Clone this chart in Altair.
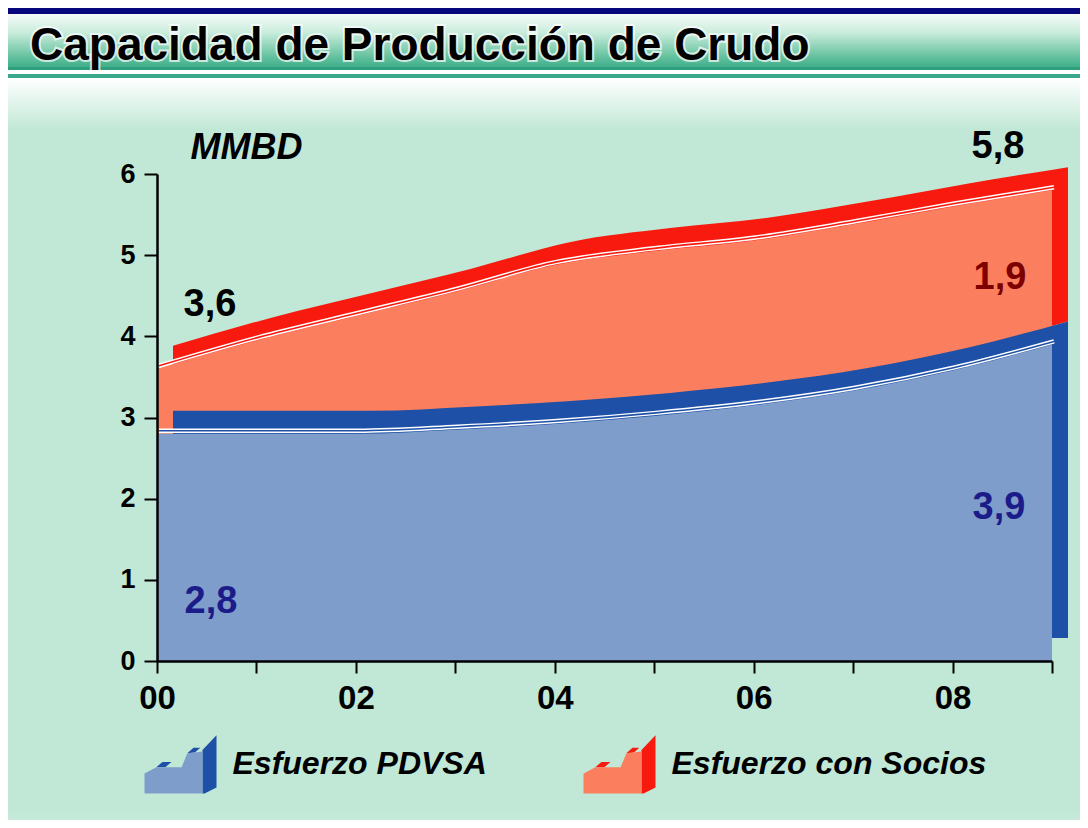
import altair as alt
import pandas as pd

# ---------------- data ----------------
years = [2000, 2001, 2002, 2003, 2004, 2005, 2006, 2007, 2008, 2009]
pdvsa = [2.8, 2.8, 2.8, 2.85, 2.92, 3.02, 3.15, 3.33, 3.58, 3.9]
socios = [0.8, 1.15, 1.45, 1.7, 1.96, 2.03, 2.03, 2.05, 2.02, 1.9]
series = ["Esfuerzo PDVSA", "Esfuerzo con Socios"]
y_ticks = [0, 1, 2, 3, 4, 5, 6]
title_text = "Capacidad de Producción de Crudo"
unit_text = "MMBD"

df = pd.DataFrame({"year": years, "pdvsa": pdvsa, "socios": socios})

# ---------------- style ----------------
NAVY = "#07077d"
PANEL = "#c1e8d6"
BLUE_FRONT = "#7f9dca"
BLUE_TOP = "#1d50a6"
RED_FRONT = "#fb7f5e"
RED_TOP = "#f81a0e"
SANS = "'Liberation Sans', Arial, Helvetica, sans-serif"

W, H = 895, 487
DX, DY = 16, -23  # depth of the 3D top faces

# legend icons (unit box -1..1)
front_icon = "M-1,0.81 L-1,0.25 L-0.67,0.08 L0.03,0.08 L0.19,-0.31 L0.61,-0.36 L0.61,0.81 Z"
side_icon = ("M0.61,-0.40 L1,-0.81 L1,0.64 L0.67,0.81 L0.61,0.81 Z "
             "M-0.67,0.08 L-0.5,-0.07 L-0.25,-0.07 L-0.42,0.08 Z "
             "M0.19,-0.31 L0.36,-0.46 L0.55,-0.46 L0.40,-0.33 Z")

legend_common = dict(
    orient="none", legendX=-12.5, legendY=554, direction="horizontal", columns=2,
    symbolSize=5184, symbolStrokeWidth=0, symbolOpacity=1,
    labelFont=SANS, labelFontSize=32, labelFontStyle="italic", labelFontWeight="bold",
    labelColor="black", labelOffset=16, labelLimit=500, columnPadding=96, padding=0,
    title=None,
)
front_legend = alt.Legend(symbolType=front_icon, **legend_common)
back_legend = alt.Legend(
    symbolType=side_icon, labelOpacity=0,
    labelExpr="datum.label == 'b1' ? 'Esfuerzo PDVSA' : 'Esfuerzo con Socios'",
    **legend_common,
)

x_axis = alt.Axis(
    values=years, title=None,
    labelExpr="datum.value % 2 == 0 ? substring(toString(datum.value), 2, 4) : ''",
    labelFont=SANS, labelFontSize=33, labelFontWeight="bold", labelColor="black",
    labelPadding=9, tickSize=12, tickWidth=2, tickColor="black",
    domainColor="black", domainWidth=2.5, grid=False, zindex=1, labelFlush=False,
)
y_axis = alt.Axis(
    values=y_ticks, format="d", title=unit_text, titleAngle=0, titleX=33, titleY=-16,
    titleAlign="left", titleBaseline="alphabetic", titleFont=SANS, titleFontSize=36,
    titleFontStyle="italic", titleFontWeight="bold", titleColor="black",
    labelFont=SANS, labelFontSize=27, labelFontWeight="bold", labelColor="black",
    labelPadding=9, tickSize=13, tickWidth=2, tickColor="black",
    domainColor="black", domainWidth=2.5, grid=False, zindex=1,
)

X = alt.X("year:Q", scale=alt.Scale(domain=[years[0], years[-1]], nice=False, zero=False), axis=x_axis)
ysc = alt.Scale(domain=[y_ticks[0], y_ticks[-1]], nice=False)


def Y(field):
    return alt.Y(f"{field}:Q", scale=ysc, axis=y_axis)


base = alt.Chart(df).transform_calculate(total="datum.pdvsa + datum.socios")

back_color_scale = alt.Scale(domain=["b1", "b2"], range=[BLUE_TOP, RED_TOP])
front_fill_scale = alt.Scale(domain=series, range=[BLUE_FRONT, RED_FRONT])

red_back = base.transform_calculate(bk="'b2'").mark_area(
    interpolate="monotone", xOffset=DX, yOffset=DY, y2Offset=DY
).encode(x=X, y=Y("total"), y2="pdvsa:Q",
         color=alt.Color("bk:N", scale=back_color_scale, legend=back_legend))

red_front = base.transform_calculate(serie=f"'{series[1]}'").mark_area(
    interpolate="monotone"
).encode(x=X, y=Y("total"), y2="pdvsa:Q",
         fill=alt.Fill("serie:N", scale=front_fill_scale, legend=front_legend))

blue_back = base.transform_calculate(bk="'b1'").mark_area(
    interpolate="monotone", xOffset=DX, yOffset=DY, y2Offset=DY
).encode(x=X, y=Y("pdvsa"),
         color=alt.Color("bk:N", scale=back_color_scale, legend=back_legend))

blue_front = base.transform_calculate(serie=f"'{series[0]}'").mark_area(
    interpolate="monotone"
).encode(x=X, y=Y("pdvsa"),
         fill=alt.Fill("serie:N", scale=front_fill_scale, legend=front_legend))


def rim(field, col):
    w = base.mark_line(interpolate="monotone", color="white", strokeWidth=4.5,
                       xOffset=2, yOffset=-3).encode(x=X, y=Y(field))
    c = base.mark_line(interpolate="monotone", color=col, strokeWidth=1.6,
                       xOffset=2, yOffset=-3).encode(x=X, y=Y(field))
    return [w, c]


def value_label(year, text_field, y_field, dx, dy, col):
    return base.transform_filter(f"datum.year == {year}").transform_calculate(
        lbl=f"replace(format(datum.{text_field}, '.1f'), '.', ',')"
    ).mark_text(dx=dx, dy=dy, align="center", baseline="alphabetic", font=SANS,
                fontSize=38, fontWeight="bold", color=col).encode(
        x=X, y=Y(y_field), text="lbl:N")


def deco_rect(x, x2, y, y2, fill):
    return alt.Chart(alt.Data(values=[{"k": 0}])).mark_rect(fill=fill).encode(
        x=alt.value(x), x2=alt.value(x2), y=alt.value(y), y2=alt.value(y2))


def vgrad(stops):
    return alt.LinearGradient(
        gradient="linear", x1=0, x2=0, y1=0, y2=1,
        stops=[alt.GradientStop(color=c, offset=o) for o, c in stops])


bg_panel = deco_rect(-152, 960, -160, 700, PANEL)
bg_title = deco_rect(-152, 960, -160, -107,
                     vgrad([(0, "#f6fbf8"), (0.35, "#c9ecdc"), (0.8, "#66c2a0"), (1, "#3fae8a")]))
bg_line1 = deco_rect(-152, 960, -107, -104, "#2f9f7e")
bg_line2 = deco_rect(-152, 960, -104, -100, "#ffffff")
bg_line3 = deco_rect(-152, 960, -100, -96, "#3aa88a")
bg_fade = deco_rect(-152, 960, -96, -45, vgrad([(0, "#ffffff"), (1, PANEL)]))
bg_bottom = deco_rect(-152, 960, 636, 700, vgrad([(0, PANEL), (1, "#e2f4ea")]))

title_glow = alt.Chart(alt.Data(values=[{"t": title_text}])).mark_text(
    align="left", baseline="alphabetic", font=SANS, fontSize=46, fontWeight="bold",
    color="white", stroke="white", strokeWidth=4, strokeOpacity=0.7
).encode(x=alt.value(-127), y=alt.value(-114), text="t:N")
title = alt.Chart(alt.Data(values=[{"t": title_text}])).mark_text(
    align="left", baseline="alphabetic", font=SANS, fontSize=46, fontWeight="bold",
    color="black"
).encode(x=alt.value(-127), y=alt.value(-114), text="t:N")

layers = [bg_panel, bg_title, bg_line1, bg_line2, bg_line3, bg_fade, bg_bottom,
          red_back, red_front, blue_back, blue_front]
layers += rim("total", RED_TOP)
layers += rim("pdvsa", BLUE_TOP)
layers += [
    value_label(years[0], "total", "total", 53, -53, "black"),
    value_label(years[-1], "total", "total", -54, -32, "black"),
    value_label(years[-1], "socios", "total", -52, 99, "#7d0000"),
    value_label(years[0], "pdvsa", "pdvsa", 54, 179, "#1b1b8a"),
    value_label(years[-1], "pdvsa", "pdvsa", -53, 175, "#1b1b8a"),
    title_glow,
    title,
]

chart = alt.layer(*layers).properties(
    width=W, height=H,
    autosize=alt.AutoSizeParams(type="none"),
    padding={"left": 149, "top": 166, "right": 28, "bottom": 159},
    background=NAVY,
).configure_view(stroke="transparent")

chart.save("out.html", embed_options={"renderer": "svg", "actions": False})
